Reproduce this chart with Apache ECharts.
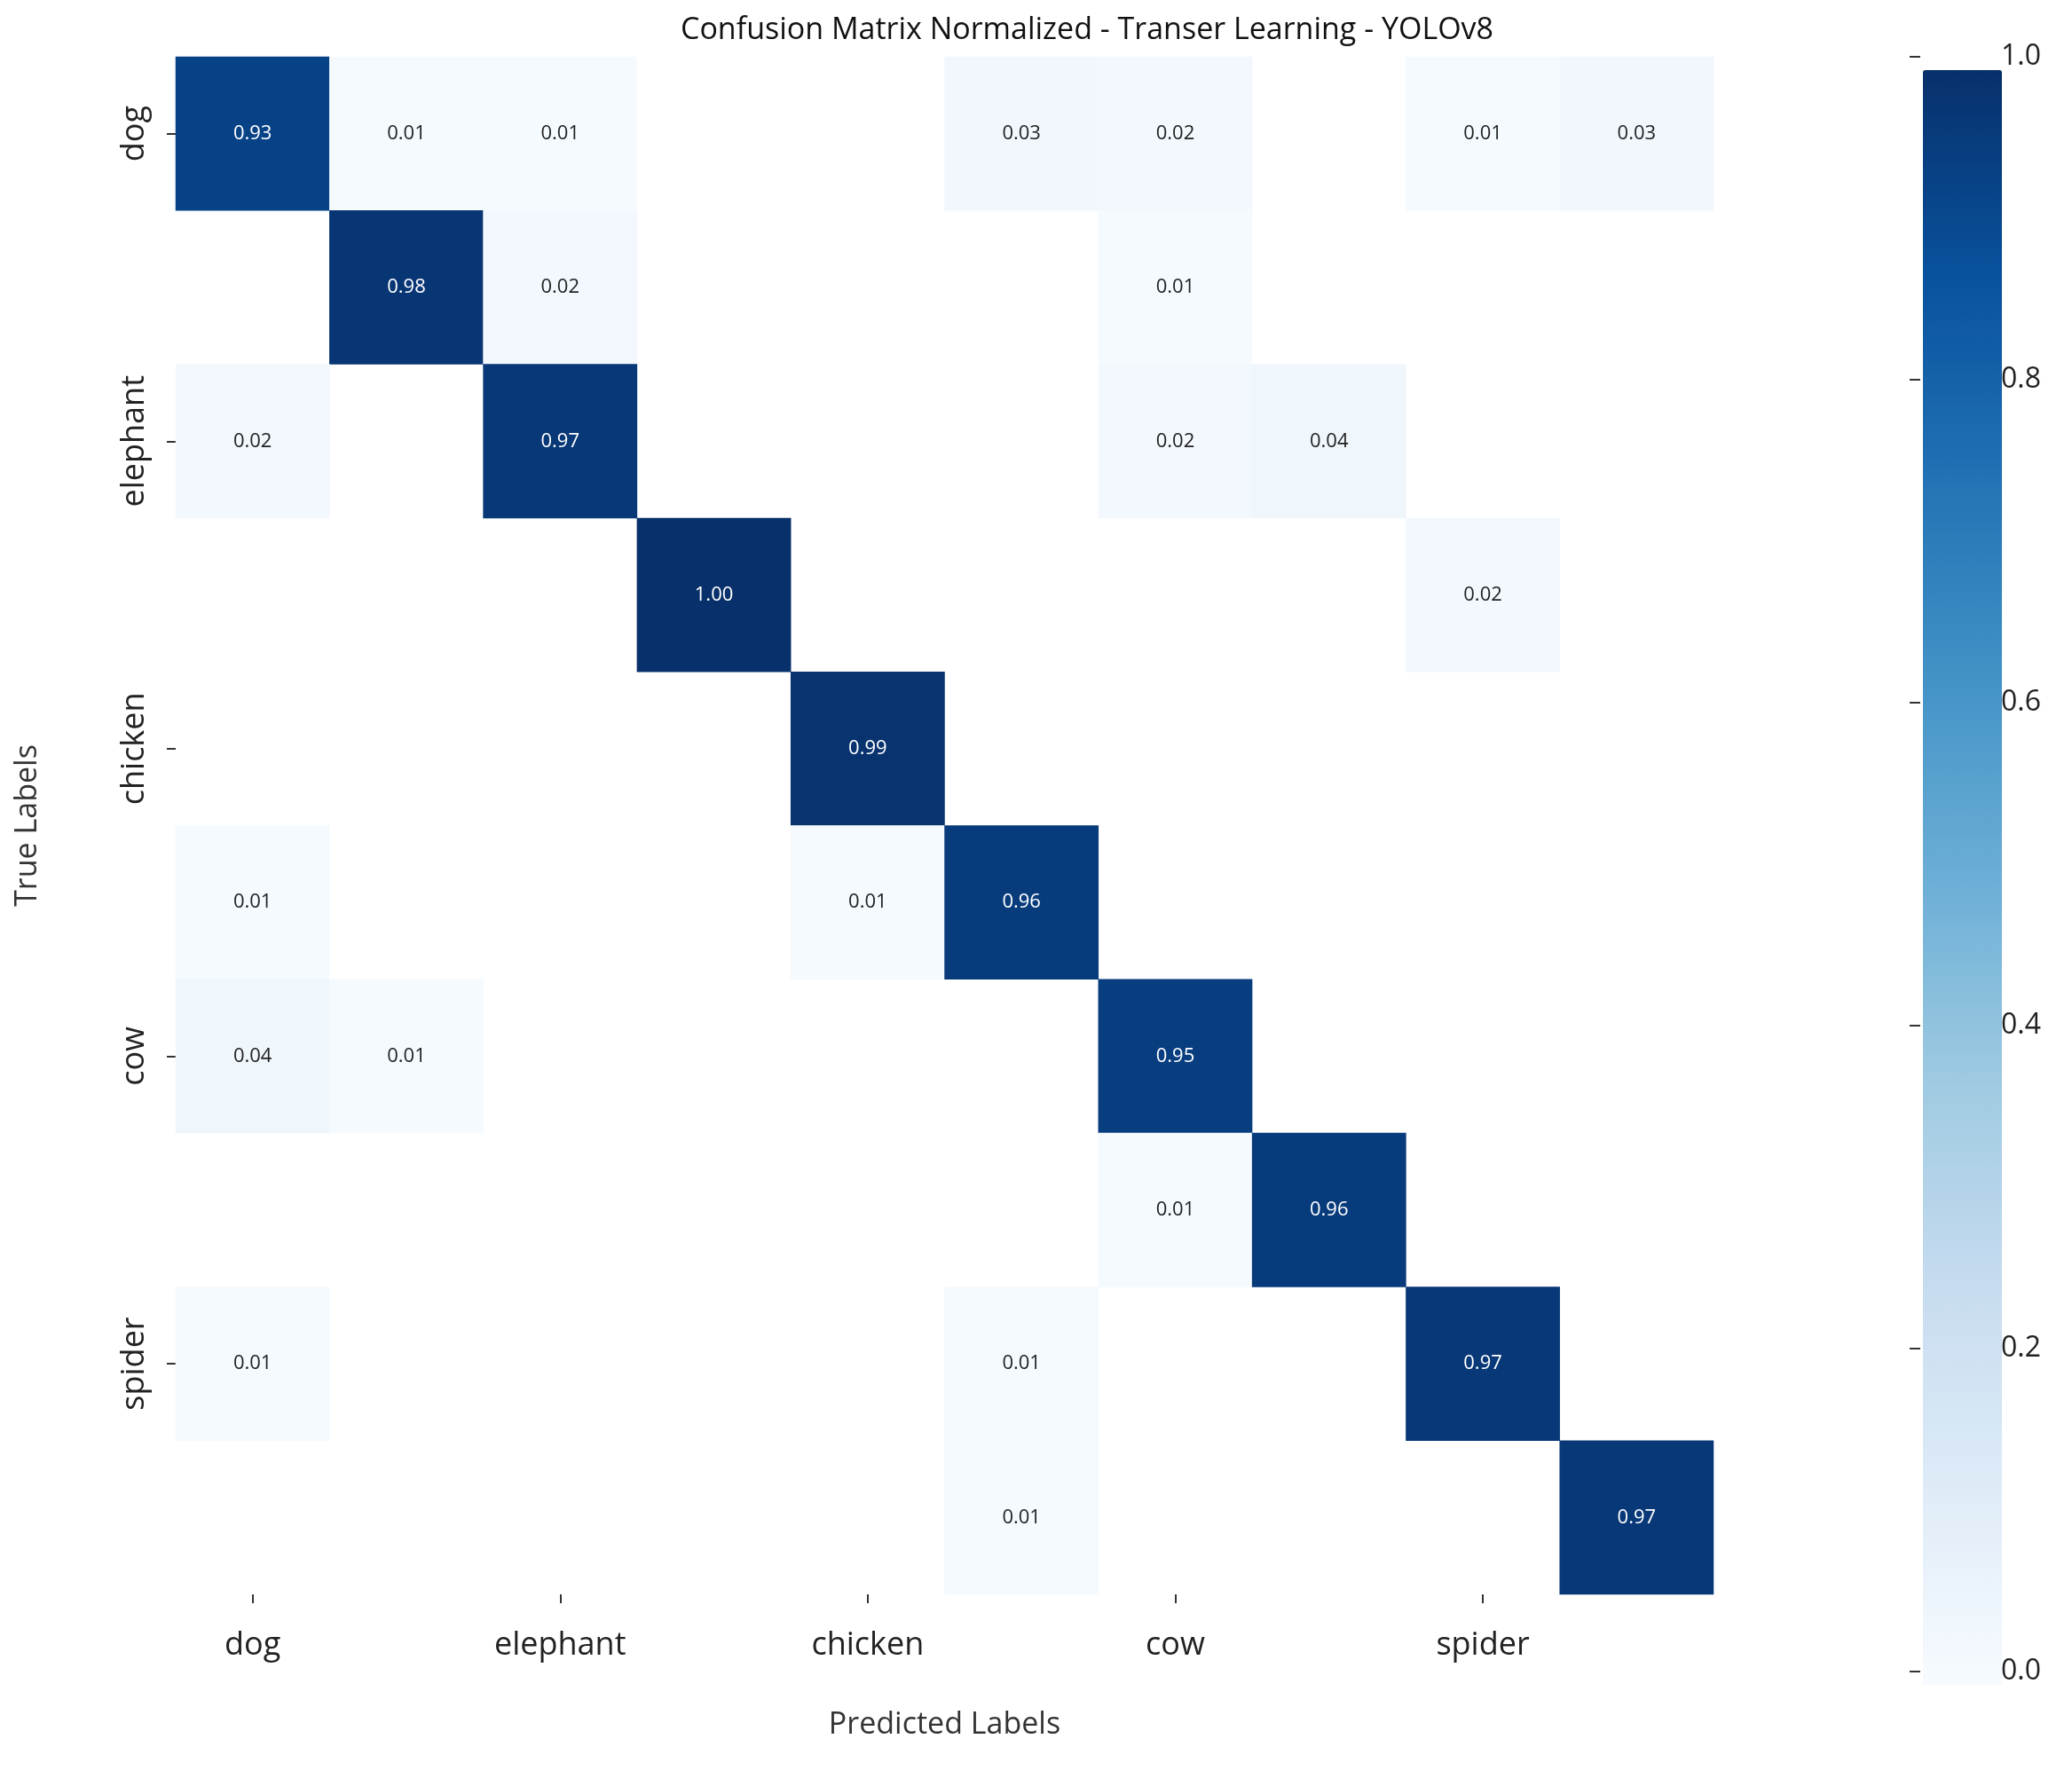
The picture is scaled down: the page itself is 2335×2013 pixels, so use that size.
<!DOCTYPE html>
<html>
<head>
<meta charset="utf-8">
<script src="https://cdn.jsdelivr.net/npm/echarts@6/dist/echarts.min.js"></script>
<style>html,body{margin:0;background:#fff}#c{width:2335px;height:2013px}</style>
</head>
<body>
<div id="c"></div>
<script>
// labels
const classes = ['dog', 'horse', 'elephant', 'butterfly', 'chicken', 'cat', 'cow', 'sheep', 'spider', 'squirrel'];
// rows = true label, cols = predicted label
const rowDog = [0.93, 0.01, 0.01, 0, 0, 0.03, 0.02, 0, 0.01, 0.03];
const rowHorse = [0, 0.98, 0.02, 0, 0, 0, 0.01, 0, 0, 0];
const rowElephant = [0.02, 0, 0.97, 0, 0, 0, 0.02, 0.04, 0, 0];
const rowButterfly = [0, 0, 0, 1.00, 0, 0, 0, 0, 0.02, 0];
const rowChicken = [0, 0, 0, 0, 0.99, 0, 0, 0, 0, 0];
const rowCat = [0.01, 0, 0, 0, 0.01, 0.96, 0, 0, 0, 0];
const rowCow = [0.04, 0.01, 0, 0, 0, 0, 0.95, 0, 0, 0];
const rowSheep = [0, 0, 0, 0, 0, 0, 0.01, 0.96, 0, 0];
const rowSpider = [0.01, 0, 0, 0, 0, 0.01, 0, 0, 0.97, 0];
const rowSquirrel = [0, 0, 0, 0, 0, 0.01, 0, 0, 0, 0.97];
const colorbarTicks = [0, 0.2, 0.4, 0.6, 0.8, 1.0];

const rows = [rowDog, rowHorse, rowElephant, rowButterfly, rowChicken, rowCat, rowCow, rowSheep, rowSpider, rowSquirrel];
const cells = [];
rows.forEach((r, i) => r.forEach((v, j) => { if (v > 0) cells.push([j, i, v]); }));

const blues = ['#f7fbff', '#deebf7', '#c6dbef', '#9ecae1', '#6baed6', '#4292c6', '#2171b5', '#08519c', '#08306b'];
const font = 'Open Sans, Liberation Sans, sans-serif';

const chart = echarts.init(document.getElementById('c'));
chart.setOption({
  backgroundColor: '#fff',
  animation: false,
  title: {
    text: 'Confusion Matrix Normalized - Transer Learning - YOLOv8',
    left: 1220, top: 12, textAlign: 'center',
    textStyle: {fontSize: 34, fontWeight: 'normal', color: '#111', fontFamily: font}
  },
  grid: [
    {left: 198, top: 64, width: 1733, height: 1733},
    {left: 2152, top: 64, width: 89, height: 1820}
  ],
  xAxis: [
    {
      type: 'category', data: classes, gridIndex: 0,
      name: 'Predicted Labels', nameLocation: 'middle', nameGap: 130,
      nameTextStyle: {fontSize: 34, color: '#333', fontFamily: font},
      axisLine: {show: false}, splitLine: {show: false},
      axisTick: {show: true, alignWithLabel: true, length: 10, lineStyle: {color: '#333', width: 2}},
      axisLabel: {fontSize: 36, color: '#222', margin: 40, fontFamily: font}
    },
    {type: 'value', gridIndex: 1, show: false}
  ],
  yAxis: [
    {
      type: 'category', data: classes, inverse: true, gridIndex: 0,
      name: 'True Labels', nameLocation: 'middle', nameGap: 150,
      nameTextStyle: {fontSize: 34, color: '#333', fontFamily: font},
      axisLine: {show: false}, splitLine: {show: false},
      axisTick: {show: true, alignWithLabel: true, length: 10, lineStyle: {color: '#333', width: 2}},
      axisLabel: {fontSize: 36, color: '#222', rotate: 90, margin: 28, fontFamily: font}
    },
    {
      type: 'value', gridIndex: 1, min: 0, max: 1, interval: 0.2, position: 'right',
      axisLine: {show: false}, splitLine: {show: false},
      axisTick: {show: true, length: 12, lineStyle: {color: '#333', width: 2}},
      axisLabel: {fontSize: 32, color: '#222', margin: 14, fontFamily: font,
        formatter: v => v.toFixed(1)}
    }
  ],
  visualMap: {
    type: 'continuous', min: 0, max: 1, calculable: false, seriesIndex: 0,
    left: 2152, top: 64, itemWidth: 89, itemHeight: 1820,
    text: ['', ''], showLabel: false, show: true,
    inRange: {color: blues}
  },
  series: [{
    type: 'heatmap', xAxisIndex: 0, yAxisIndex: 0, data: cells,
    label: {
      show: true, fontSize: 22, fontFamily: font,
      formatter: p => p.value[2].toFixed(2),
      rich: {}
    },
    itemStyle: {borderWidth: 0}
  }]
});
// label colour by value
chart.setOption({series: [{
  data: cells.map(c => ({value: c, label: {color: c[2] > 0.5 ? '#fff' : '#222'}}))
}]});
</script>
</body>
</html>
